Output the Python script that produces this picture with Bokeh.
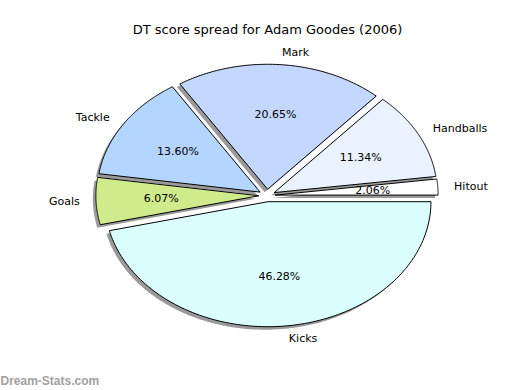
import numpy as np
from bokeh.plotting import figure
from bokeh.models import Range1d, Label, ColumnDataSource
from bokeh.embed import file_html
from bokeh.resources import INLINE
from bokeh.core.properties import value

# ---- data ----
categories = ["Hitout", "Handballs", "Mark", "Tackle", "Goals", "Kicks"]
shares = [2.06, 11.34, 20.65, 13.60, 6.07, 46.28]
explode = [0.05, 0.05, 0.05, 0.05, 0.05, 0.05]
colors = ["#FFFFFF", "#EAF2FF", "#C4D8FF", "#B3D5FF", "#CFEB8B", "#DBFFFF"]
title_text = "DT score spread for Adam Goodes (2006)"
watermark = "Dream-Stats.com"

# ---- layout ----
W, H = 520, 390
RX, RY = 163.0, 125.0          # pixel radii of the (elliptical) pie
CX, CY = 266.5, 195.0          # pie centre in figure pixels (from left / from bottom)

p = figure(width=W, height=H, output_backend="svg", toolbar_location=None,
           x_range=Range1d(-CX / RX, (W - CX) / RX),
           y_range=Range1d(-CY / RY, (H - CY) / RY),
           x_axis_location=None, y_axis_location=None, min_border=0)
p.grid.visible = False
p.outline_line_color = None
p.background_fill_color = "white"

total = float(sum(shares))
bounds = np.concatenate([[0.0], np.cumsum(shares)]) / total * 2 * np.pi

xs, ys, sxs, sys_ = [], [], [], []
lab_x, lab_y, pct_x, pct_y = [], [], [], []
SX, SY = -3.0 / RX, -3.0 / RY
for i, (t1, t2) in enumerate(zip(bounds[:-1], bounds[1:])):
    mid = 0.5 * (t1 + t2)
    dx, dy = explode[i] * np.cos(mid), explode[i] * np.sin(mid)
    t = np.linspace(t1, t2, 120)
    px = [dx] + list(dx + np.cos(t)) + [dx]
    py = [dy] + list(dy + np.sin(t)) + [dy]
    xs.append(px)
    ys.append(py)
    sxs.append([v + SX for v in px])
    sys_.append([v + SY for v in py])
    lab_x.append(dx + 1.1 * np.cos(mid))
    lab_y.append(dy + 1.1 * np.sin(mid))
    pct_x.append(dx + 0.6 * np.cos(mid))
    pct_y.append(dy + 0.6 * np.sin(mid))

# shadows
p.patches(sxs, sys_, fill_color="#9a9a9a", fill_alpha=1.0, line_color=None)
# wedges
p.patches(xs, ys, fill_color=colors, line_color="black", line_width=1)

# percentage texts
pct_src = ColumnDataSource(dict(x=pct_x, y=pct_y,
                                t=["%.2f%%" % s for s in shares]))
p.text(x="x", y="y", text="t", source=pct_src, text_align="center",
       text_baseline="middle", text_font=value("DejaVu Sans"),
       text_font_size="11px", text_color="black")

# category labels (left aligned on right side, right aligned on left side)
right = [i for i in range(len(categories)) if lab_x[i] > 0]
left = [i for i in range(len(categories)) if lab_x[i] <= 0]
for idx, al in ((right, "left"), (left, "right")):
    src = ColumnDataSource(dict(x=[lab_x[i] for i in idx], y=[lab_y[i] for i in idx],
                                t=[categories[i] for i in idx]))
    p.text(x="x", y="y", text="t", source=src, text_align=al,
           text_baseline="middle", text_font=value("DejaVu Sans"),
           text_font_size="11px", text_color="black")

p.add_layout(Label(x=267, y=361, x_units="screen", y_units="screen",
                   text=title_text, text_align="center", text_baseline="middle",
                   text_font="DejaVu Sans", text_font_size="13px",
                   text_color="black"))
p.add_layout(Label(x=0, y=3, x_units="screen", y_units="screen",
                   text=watermark, text_align="left", text_baseline="bottom",
                   text_font="Liberation Sans", text_font_size="12px",
                   text_font_style="bold", text_color="#a0a0a0"))

open("out.html", "w").write(file_html(p, INLINE))
